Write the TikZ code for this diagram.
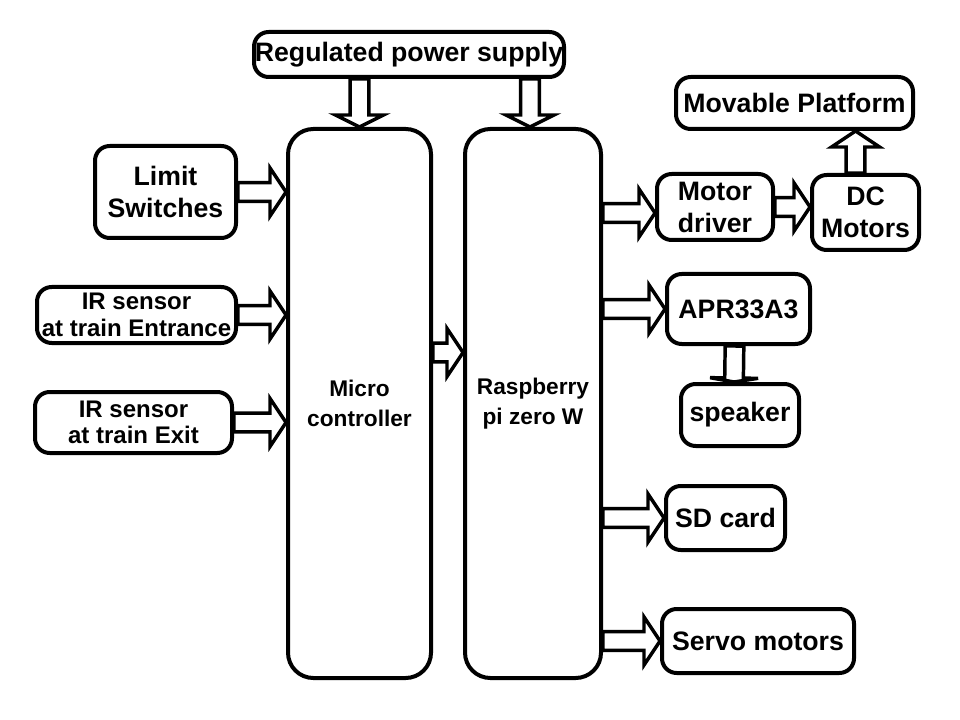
\documentclass[tikz,border=0pt]{standalone}
\usepackage{fontspec}
\setmainfont{Liberation Sans}
\usetikzlibrary{calc}

\tikzset{
  block/.style={draw, line width=3pt, rounded corners=11pt, fill=white, align=center, inner sep=0pt,
    font=\bfseries\fontsize{20}{24}\selectfont},
  tallblock/.style={block, rounded corners=19pt, font=\bfseries\fontsize{17}{22}\selectfont},
  smallblock/.style={block, font=\bfseries\fontsize{18}{20}\selectfont},
  boxsize/.style 2 args={minimum width=#1*0.75pt, minimum height=#2*0.75pt},
  arrowbody/.style={draw, line width=2.6pt, fill=white, line join=miter}
}

\newcommand{\blockarrow}[3][12pt]{%
  \draw[arrowbody] let \p1=#2, \p2=#3, \n1={atan2(\y2-\y1,\x2-\x1)}, \n2={veclen(\x2-\x1,\y2-\y1)} in
    (\p1) ++(\n1+90:7pt) -- ++(\n1:\n2-#1) -- ++(\n1+90:11pt) -- (\p2)
    -- ($(\p2)+(\n1+180:#1)+(\n1-90:18pt)$) -- ++(\n1+90:11pt) -- ++(\n1+180:\n2-#1) -- cycle;}

\begin{document}
\begin{tikzpicture}[x=0.75pt, y=-0.75pt]
  \useasboundingbox (0,0) rectangle (960,720);

  \node[block, boxsize={310}{45}] (supply) at (409,54.5) {Regulated power supply};
  \node[tallblock, boxsize={143}{549}] (micro) at (359.5,403.5) {Micro\\controller};
  \node[tallblock, boxsize={136}{549}] (pi) at (533,403.5) {Raspberry\\pi zero W};

  \node[block, boxsize={141}{92}] (limit) at (165.5,192) {Limit\\Switches};
  \node[smallblock, boxsize={199}{56}] (irentry) at (136.5,315) {IR sensor\\at train Entrance};
  \node[smallblock, boxsize={197}{61}] (irexit) at (133.5,422.5) {IR sensor\\at train Exit};

  \node[block, boxsize={237}{52}] (platform) at (794.5,103) {Movable Platform};
  \node[block, boxsize={116}{66}] (driver) at (715,207) {Motor\\driver};
  \node[block, boxsize={107}{75}] (dcmotors) at (865.5,212.5) {DC\\Motors};
  \node[block, boxsize={143}{70}] (apr) at (738.5,309) {APR33A3};
  \node[block, boxsize={118}{62}] (speaker) at (740,415) {speaker};
  \node[block, boxsize={119}{64}] (sdcard) at (725.5,518) {SD card};
  \node[block, boxsize={192}{64}] (servo) at (758,641) {Servo motors};

  \blockarrow[9pt]{(micro.north |- supply.south)}{(micro.north)}
  \blockarrow[9pt]{($(pi.north |- supply.south)+(-3,0)$)}{($(pi.north)+(-3,0)$)}
  \blockarrow{(limit.east)}{(limit.east -| micro.west)}
  \blockarrow{(irentry.east)}{(irentry.east -| micro.west)}
  \blockarrow{(irexit.east)}{(irexit.east -| micro.west)}
  \blockarrow{($(micro.east)+(0,-51)$)}{($(micro.east -| pi.west)+(0,-51)$)}
  \blockarrow{($(pi.east |- driver.west)+(0,6)$)}{($(driver.west)+(0,6)$)}
  \blockarrow{(driver.east)}{(driver.east -| dcmotors.west)}
  \blockarrow{($(dcmotors.north)+(-10,0)$)}{($(dcmotors.north |- platform.south)+(-10,0)$)}
  \blockarrow{(pi.east |- apr.west)}{(apr.west)}
  \blockarrow[3pt]{($(apr.south)+(-4,0)$)}{($(speaker.north)+(-6,0)$)}
  \blockarrow{(pi.east |- sdcard.west)}{(sdcard.west)}
  \blockarrow{(pi.east |- servo.west)}{(servo.west)}
\end{tikzpicture}
\end{document}
